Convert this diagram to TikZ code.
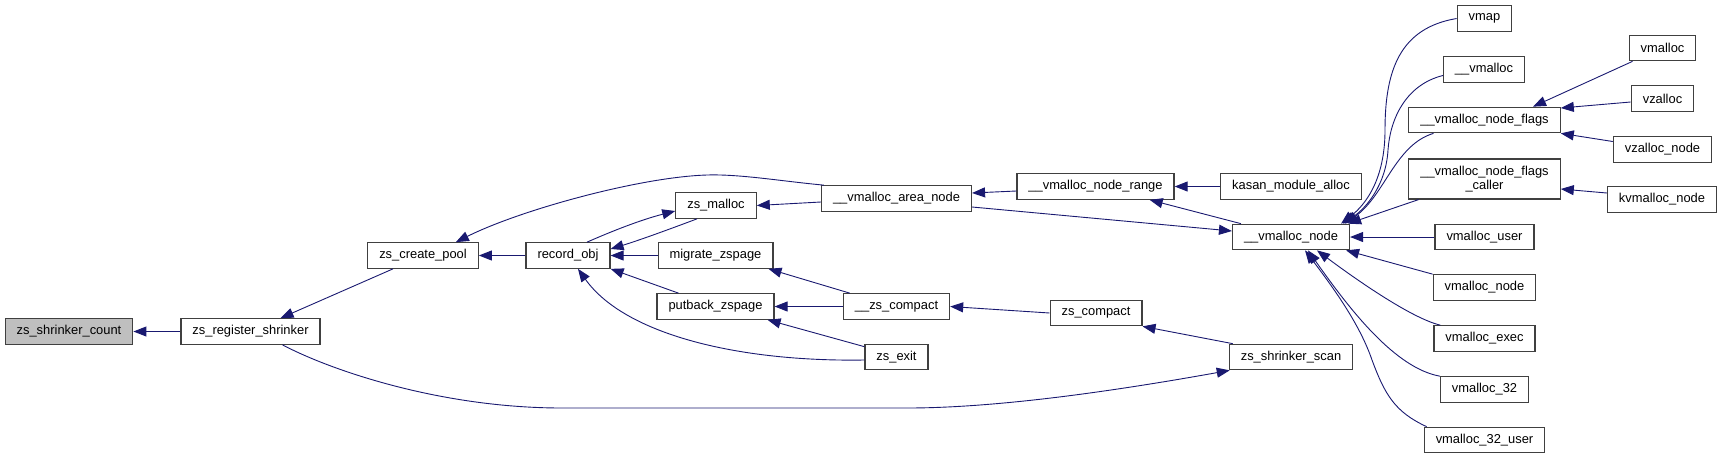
\documentclass[tikz,border=0pt]{standalone}
\usepackage{fontspec}
\setmainfont{Liberation Sans}
\usepackage{xcolor}
\usepackage{tikz}
\usetikzlibrary{arrows.meta}

\definecolor{edgeblue}{HTML}{191970}
\definecolor{boxline}{HTML}{404040}
\definecolor{focusgray}{HTML}{BFBFBF}

\begin{document}
\begin{tikzpicture}[
  x=1pt, y=-1pt,
  fn/.style={rectangle, draw=boxline, line width=1.2pt, fill=white, align=center, minimum height=25.5pt, inner xsep=11.5pt, inner ysep=0pt, font=\fontsize{12.9}{14.5}\selectfont},
  arrow/.style={-{Triangle[length=13pt,width=10pt]}, edgeblue, line width=0.9pt}
]
\useasboundingbox (0,0) rectangle (1723,459);

\node[fn, fill=focusgray] (count) at (69,331.5) {zs\_shrinker\_count};
\node[fn] (regshr) at (250.5,331.5) {zs\_register\_shrinker};
\node[fn] (pool) at (423,255.5) {zs\_create\_pool};
\node[fn] (recobj) at (568,255.5) {record\_obj};
\node[fn] (zsmalloc) at (716,205.5) {zs\_malloc};
\node[fn] (migrate) at (715.5,255.5) {migrate\_zspage};
\node[fn] (putback) at (715.5,306.5) {putback\_zspage};
\node[fn] (areanode) at (896.5,198.5) {\_\_vmalloc\_area\_node};
\node[fn] (zscompactint) at (896.5,306.5) {\_\_zs\_compact};
\node[fn] (zsexit) at (896.5,357) {zs\_exit};
\node[fn] (range) at (1095.5,186.5) {\_\_vmalloc\_node\_range};
\node[fn] (zscompact) at (1096,313) {zs\_compact};
\node[fn] (kasan) at (1291,186.5) {kasan\_module\_alloc};
\node[fn] (vnode) at (1291,237) {\_\_vmalloc\_node};
\node[fn] (scan) at (1291,357) {zs\_shrinker\_scan};
\node[fn] (vmap) at (1484.5,18.5) {vmap};
\node[fn] (vmallocint) at (1484,69.5) {\_\_vmalloc};
\node[fn] (flags) at (1484.5,120) {\_\_vmalloc\_node\_flags};
\node[fn, minimum height=40pt] (caller) at (1484.5,179) {\_\_vmalloc\_node\_flags\\\_caller};
\node[fn] (vuser) at (1484.5,237) {vmalloc\_user};
\node[fn] (vmnode) at (1484.5,287.5) {vmalloc\_node};
\node[fn] (vexec) at (1484.5,338.5) {vmalloc\_exec};
\node[fn] (v32) at (1484.5,389.5) {vmalloc\_32};
\node[fn] (v32user) at (1484.5,440) {vmalloc\_32\_user};
\node[fn] (vmalloc) at (1662.5,48) {vmalloc};
\node[fn] (vzalloc) at (1662.5,98.5) {vzalloc};
\node[fn] (vzallocnode) at (1662.5,149.5) {vzalloc\_node};
\node[fn] (kvmalloc) at (1662,199.5) {kvmalloc\_node};

\draw[arrow] (regshr.west) -- (count.east);
\draw[arrow] ([xshift=-30pt]pool.south) -- ([xshift=30pt]regshr.north);
\draw[arrow] ([xshift=32pt]regshr.south) .. controls (330,370) and (440,408) .. (562,408) -- (907,408) .. controls (1000,408) and (1120,390) .. ([xshift=1pt]scan.south west);
\draw[arrow] (recobj.west) -- (pool.east);
\draw[arrow] ([xshift=3pt]areanode.north west) .. controls (780,181) and (740,174) .. (707,175) .. controls (640,177) and (520,210) .. ([xshift=-23pt]pool.north east);
\draw[arrow] ([xshift=19pt]recobj.north) .. controls (610,232) and (640,220) .. ([yshift=-5.5pt]zsmalloc.west);
\draw[arrow] ([xshift=-19pt]zsmalloc.south) .. controls (670,229) and (640,240) .. ([yshift=6.5pt]recobj.east);
\draw[arrow] (migrate.west) -- (recobj.east);
\draw[arrow] ([xshift=-37pt]putback.north) -- (recobj.south east);
\draw[arrow] ([yshift=-3pt]zsexit.west) .. controls (740,362) and (625,335) .. ([xshift=10pt]recobj.south);
\draw[arrow] ([yshift=-3.5pt]areanode.west) -- (zsmalloc.east);
\draw[arrow] ([xshift=7pt]zscompactint.north west) -- ([xshift=-5pt]migrate.south east);
\draw[arrow] (zscompactint.west) -- (putback.east);
\draw[arrow] ([yshift=-3pt]zsexit.north west) -- ([xshift=-7pt]putback.south east);
\draw[arrow] ([yshift=-4.5pt]range.west) -- ([yshift=5.5pt]areanode.east);
\draw[arrow] ([yshift=-8.5pt]areanode.east) -- ([yshift=6pt]vnode.west);
\draw[arrow] (kasan.west) -- (range.east);
\draw[arrow] ([xshift=9pt]vnode.north west) -- ([xshift=-25pt]range.south east);
\draw[arrow] (zscompact.west) -- (zscompactint.east);
\draw[arrow] ([xshift=4pt]scan.north west) -- (zscompact.south east);

\draw[arrow] (vmap.west) .. controls (1400,28) and (1385,70) .. (1385,130) .. controls (1385,180) and (1365,205) .. ([xshift=-9pt]vnode.north east);
\draw[arrow] ([yshift=-6pt]vmallocint.west) .. controls (1405,85) and (1390,120) .. (1388,150) .. controls (1386,185) and (1366,208) .. ([xshift=-7pt]vnode.north east);
\draw[arrow] ([xshift=-51pt]flags.south) .. controls (1395,145) and (1385,195) .. ([xshift=-5pt]vnode.north east);
\draw[arrow] ([xshift=-66pt]caller.south) -- ([xshift=-2pt]vnode.north east);
\draw[arrow] (vuser.west) -- (vnode.east);
\draw[arrow] (vmnode.north west) -- ([xshift=-4pt]vnode.south east);
\draw[arrow] ([xshift=7pt]vexec.north west) .. controls (1410,318) and (1350,275) .. ([xshift=26pt]vnode.south);
\draw[arrow] (v32.north west) .. controls (1395,368) and (1350,310) .. ([xshift=17pt]vnode.south);
\draw[arrow] ([xshift=3pt]v32user.north west) .. controls (1395,412) and (1385,395) .. (1372,360) .. controls (1360,325) and (1335,290) .. ([xshift=14pt]vnode.south);

\draw[arrow] ([xshift=4pt]vmalloc.south west) -- ([xshift=48.5pt]flags.north);
\draw[arrow] ([yshift=-3.5pt]vzalloc.west) -- ([yshift=12pt]flags.east);
\draw[arrow] ([yshift=8pt]vzallocnode.west) -- (flags.south east);
\draw[arrow] ([yshift=6.5pt]kvmalloc.west) -- ([yshift=-10pt]caller.east);
\end{tikzpicture}
\end{document}
